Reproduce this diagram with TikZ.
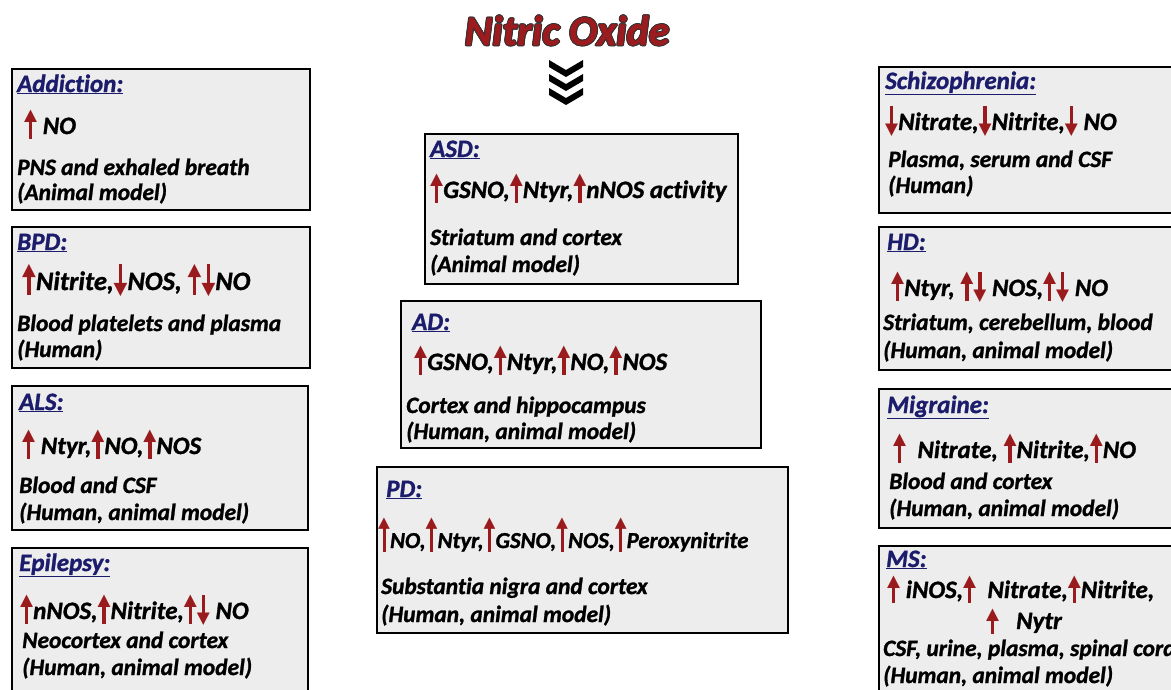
\documentclass[tikz,border=0pt]{standalone}
\usepackage{fontspec}
\usepackage{graphicx}
\setmainfont{Carlito}[Ligatures=NoCommon, BoldItalicFeatures={FakeBold=1.2}]
\newfontfamily\symf{DejaVu Sans}
\definecolor{boxgray}{HTML}{EDEDED}
\definecolor{arrred}{HTML}{9A1B1E}
\definecolor{titlered}{HTML}{9B1B1E}
\definecolor{navy}{HTML}{1C1C6C}
\def\arrT{1.15em}
\newcommand\ua{{\color{arrred}\raisebox{-0.18em}{\ooalign{\hfil\rule{0.14em}{\dimexpr\arrT-0.3em\relax}\hfil\cr
  \raisebox{\dimexpr\arrT-0.42em\relax}{\resizebox{0.52em}{0.42em}{\symf ▲}}\cr}}}}
\newcommand\da{{\color{arrred}\raisebox{-0.18em}{\ooalign{\hfil\raisebox{0.3em}{\rule{0.14em}{\dimexpr\arrT-0.3em\relax}}\hfil\cr
  \resizebox{0.52em}{0.42em}{\symf ▼}\cr}}}}
\tikzset{
  panel/.style={draw=black, line width=2pt, fill=boxgray, inner sep=0pt, anchor=north west},
  head/.style={anchor=base west, inner sep=0pt, font=\fontsize{25}{29}\selectfont\bfseries\itshape, text=navy},
  meas/.style={anchor=base west, inner sep=0pt, font=\fontsize{25}{29}\selectfont\bfseries\itshape},
  body/.style={anchor=base west, inner sep=0pt, font=\fontsize{23.4}{27}\selectfont\bfseries\itshape},
  titlef/.style={inner sep=0pt, anchor=base, font=\fontsize{42}{46}\selectfont\bfseries\itshape},
  chev/.style={fill=black},
}
\begin{document}
\begin{tikzpicture}[x=1pt,y=-1pt]
\useasboundingbox (0,0) rectangle (1171,689);
\clip (0,0) rectangle (1171,689);
% title
\foreach \dx/\dy [count=\i] in {1/0,-1/0,0/1,0/-1,0.7/0.7,-0.7/0.7,0.7/-0.7,-0.7/-0.7}
  \node[titlef, text=black!80] (tsh\i) at (567+\dx,45+\dy) {Nitric Oxide};
\node[titlef, text=titlered] (title) at (567,45) {Nitric Oxide};
% chevrons
\foreach \y in {60,74,88}
  \fill[chev] (549,\y) -- (566,\y+10) -- (583,\y) -- (583,\y+7) -- (566,\y+17) -- (549,\y+7) -- cycle;
% left column
\node[panel, minimum width=298pt, minimum height=141pt] (addb) at (11,68) {};
\node[head] (addh) at (17,92) {\underline{Addiction:}};
\node[meas] (addm) at (24,134) {\ua\ NO};
\node[body] (add1) at (17,175) {PNS and exhaled breath};
\node[body] (add2) at (17,200) {(Animal model)};

\node[panel, minimum width=298pt, minimum height=141pt] (bpdb) at (11,226) {};
\node[head] (bpdh) at (17,250) {\underline{BPD:}};
\node[meas, font=\fontsize{26.5}{30}\selectfont\bfseries\itshape] (bpdm) at (22,290) {\ua Nitrite,\da NOS, \ua\da NO};
\node[body] (bpd1) at (17,331) {Blood platelets and plasma};
\node[body] (bpd2) at (17,357) {(Human)};

\node[panel, minimum width=296pt, minimum height=144pt] (alsb) at (11,385) {};
\node[head] (alsh) at (19,410) {\underline{ALS:}};
\node[meas] (alsm) at (22,454) {\ua\ Ntyr,\ua NO,\ua NOS};
\node[body] (als1) at (19,493) {Blood and CSF};
\node[body] (als2) at (19,520) {(Human, animal model)};

\node[panel, minimum width=296pt, minimum height=150pt] (epib) at (11,547) {};
\node[head] (epih) at (19,571) {\underline{Epilepsy:}};
\node[meas] (epim) at (20,619) {\ua nNOS,\ua Nitrite,\ua\da\ NO};
\node[body] (epi1) at (22,648) {Neocortex and cortex};
\node[body] (epi2) at (22,675) {(Human, animal model)};
% centre column
\node[panel, minimum width=313pt, minimum height=150pt] (asdb) at (424,133) {};
\node[head] (asdh) at (430,157) {\underline{ASD:}};
\node[meas] (asdm) at (430,198) {\ua GSNO,\ua Ntyr,\ua nNOS activity};
\node[body] (asd1) at (430,245) {Striatum and cortex};
\node[body] (asd2) at (430,272) {(Animal model)};

\node[panel, minimum width=360pt, minimum height=147pt] (adb) at (400,300) {};
\node[head] (adh) at (412,330) {\underline{AD:}};
\node[meas] (adm) at (414,370) {\ua GSNO,\ua Ntyr,\ua NO,\ua NOS};
\node[body] (ad1) at (406,413) {Cortex and hippocampus};
\node[body] (ad2) at (406,439) {(Human, animal model)};

\node[panel, minimum width=411pt, minimum height=166pt] (pdb) at (376,466) {};
\node[head] (pdh) at (386,497) {\underline{PD:}};
\node[meas, font=\fontsize{22.8}{26}\selectfont\bfseries\itshape] (pdm) at (378,548) {\def\arrT{1.5em}\ua NO,\ua Ntyr,\ua GSNO,\ua NOS,\ua Peroxynitrite};
\node[body] (pd1) at (381,594) {Substantia nigra and cortex};
\node[body] (pd2) at (381,622) {(Human, animal model)};
% right column
\node[panel, minimum width=300pt, minimum height=146pt] (schb) at (878,66) {};
\node[head] (schh) at (885,89) {\underline{Schizophrenia:}};
\node[meas] (schm) at (885,130) {\da Nitrate,\da Nitrite,\da\ NO};
\node[body] (sch1) at (888,167) {Plasma, serum and CSF};
\node[body] (sch2) at (888,193) {(Human)};

\node[panel, minimum width=300pt, minimum height=143pt] (hdb) at (878,226) {};
\node[head] (hdh) at (887,250) {\underline{HD:}};
\node[meas] (hdm) at (891,296) {\ua Ntyr, \ua\da\ NOS,\ua\da\ NO};
\node[body] (hd1) at (883,330) {Striatum, cerebellum, blood};
\node[body] (hd2) at (883,358) {(Human, animal model)};

\node[panel, minimum width=300pt, minimum height=139pt] (migb) at (878,388) {};
\node[head] (migh) at (887,413) {\underline{Migraine:}};
\node[meas] (migm) at (893,458) {\ua\ \ Nitrate, \ua Nitrite,\ua NO};
\node[body] (mig1) at (889,489) {Blood and cortex};
\node[body] (mig2) at (889,516) {(Human, animal model)};

\node[panel, minimum width=300pt, minimum height=150pt] (msb) at (878,545) {};
\node[head] (msh) at (886,567) {\underline{MS:}};
\node[meas] (msm) at (887,598) {\def\arrT{1.05em}\ua\ iNOS,\ua\ \ Nitrate,\ua Nitrite,};
\node[meas] (msm2) at (986,629) {\def\arrT{1.0em}\ua\ \ \ Nytr};
\node[body] (ms1) at (883,656) {CSF, urine, plasma, spinal cord};
\node[body] (ms2) at (883,683) {(Human, animal model)};
\end{tikzpicture}
\end{document}
